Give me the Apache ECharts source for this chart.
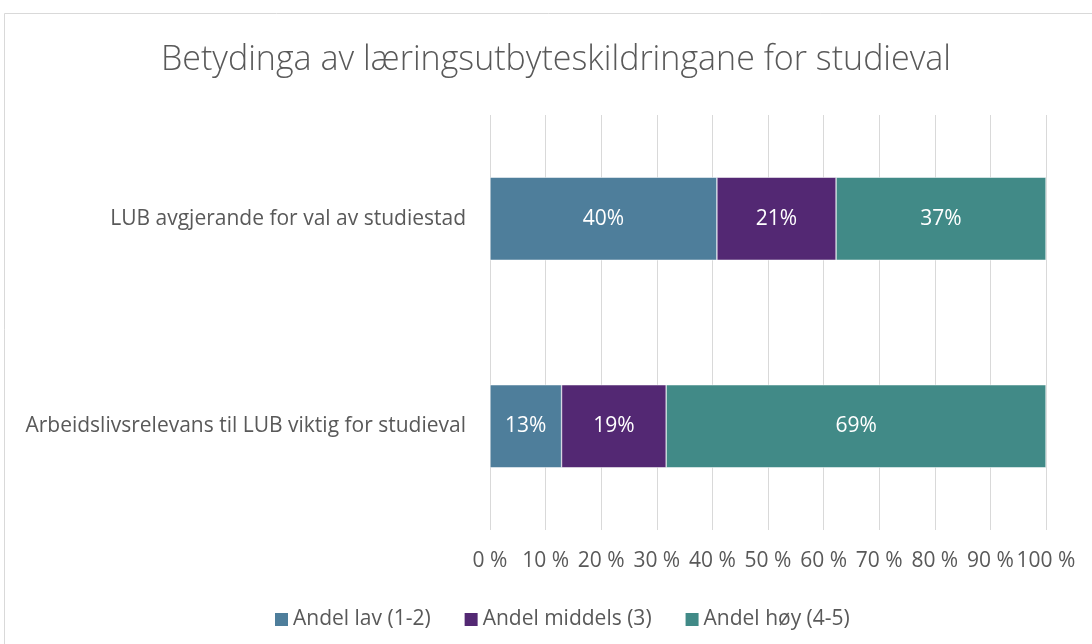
<!DOCTYPE html>
<html><head><meta charset="utf-8">
<script src="https://cdn.jsdelivr.net/npm/echarts@6/dist/echarts.min.js"></script>
<style>html,body{margin:0;padding:0;background:#fff}#c{width:1092px;height:644px}</style>
</head><body><div id="c"></div>
<script>
const categories = ['LUB avgjerande for val av studiestad', 'Arbeidslivsrelevans til LUB viktig for studieval'];
const seriesNames = ['Andel lav (1-2)', 'Andel middels (3)', 'Andel høy (4-5)'];
const lowValues = [40, 13];
const midValues = [21, 19];
const highValues = [37, 69];
const xTicks = [0, 10, 20, 30, 40, 50, 60, 70, 80, 90, 100];
const colors = ['#4E7E9B', '#532873', '#418A87'];

const raw = [lowValues, midValues, highValues];
const totals = categories.map((_, i) => raw.reduce((s, arr) => s + arr[i], 0));
const FONT = '"Open Sans", "Noto Sans", sans-serif';
const FS = 21;

const chart = echarts.init(document.getElementById('c'), null, {renderer: 'canvas'});
chart.setOption({
  animation: false,
  backgroundColor: '#fff',
  title: {
    text: 'Betydinga av læringsutbyteskildringane for studieval',
    left: 551, top: 38, textAlign: 'center',
    textStyle: {fontFamily: FONT, fontWeight: 300, fontSize: 34, color: '#595959'}
  },
  graphic: [{
    type: 'rect', shape: {x: 4.5, y: 13.5, width: 1200, height: 800},
    style: {fill: 'none', stroke: '#d9d9d9', lineWidth: 1}, silent: true, z: -1
  }],
  legend: {
    top: 604, left: 268, itemWidth: 15, itemHeight: 15, itemGap: 32, icon: 'rect',
    textStyle: {fontFamily: FONT, fontSize: FS, color: '#595959', padding: [0, 0, 0, -1]},
    data: seriesNames
  },
  grid: {left: 490, right: 46, top: 115, bottom: 114, containLabel: false},
  xAxis: {
    type: 'value', min: 0, max: 100, interval: 10,
    axisLine: {show: false}, axisTick: {show: false},
    splitLine: {lineStyle: {color: '#d9d9d9', width: 1}},
    axisLabel: {fontFamily: FONT, fontSize: FS, color: '#595959', margin: 21,
      formatter: v => xTicks.includes(v) ? v + ' %' : ''}
  },
  yAxis: {
    type: 'category', data: categories, inverse: true,
    axisLine: {show: false}, axisTick: {show: false},
    axisLabel: {fontFamily: FONT, fontSize: FS, color: '#595959', margin: 24}
  },
  series: raw.map((arr, k) => ({
    name: seriesNames[k], type: 'bar', stack: 'total', barWidth: '40%',
    itemStyle: {color: colors[k], borderColor: '#ffffff', borderWidth: 0.5},
    label: {show: true, position: 'inside', color: '#fff', fontFamily: FONT, fontSize: FS,
      formatter: p => arr[p.dataIndex] + '%'},
    data: arr.map((v, i) => v / totals[i] * 100)
  }))
});
</script></body></html>
